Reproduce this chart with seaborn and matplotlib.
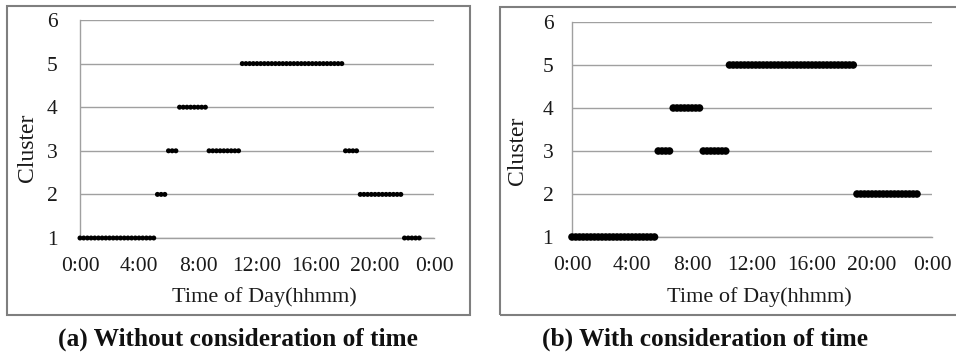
import matplotlib
matplotlib.use("Agg")
import matplotlib.pyplot as plt
from matplotlib.patches import Rectangle
import numpy as np
import pandas as pd
import seaborn as sns

# ---- data (one sample every 15 minutes, 0:00 .. 23:00) ----
slot_hours = [i * 0.25 for i in range(93)]

# (a) Without consideration of time
clusters_a = ([1] * 21 +      # 0:00 - 5:00
              [2] * 3 +       # 5:15 - 5:45
              [3] * 3 +       # 6:00 - 6:30
              [4] * 8 +       # 6:45 - 8:30
              [3] * 9 +       # 8:45 - 10:45
              [5] * 28 +      # 11:00 - 17:45
              [3] * 4 +       # 18:00 - 18:45
              [2] * 12 +      # 19:00 - 21:45
              [1] * 5)        # 22:00 - 23:00

# (b) With consideration of time
clusters_b = ([1] * 23 +      # 0:00 - 5:30
              [3] * 4 +       # 5:45 - 6:30
              [4] * 8 +       # 6:45 - 8:30
              [3] * 7 +       # 8:45 - 10:15
              [5] * 34 +      # 10:30 - 18:45
              [2] * 17)       # 19:00 - 23:00

x_ticks = [0, 4, 8, 12, 16, 20, 24]
x_tick_labels = ["0:00", "4:00", "8:00", "12:00", "16:00", "20:00", "0:00"]
y_ticks = [1, 2, 3, 4, 5, 6]
captions = ["(a) Without consideration of time", "(b) With consideration of time"]

sns.set_theme(style="white")
plt.rcParams["font.family"] = ["Liberation Serif", "DejaVu Serif"]

W, H = 956, 362
fig = plt.figure(figsize=(W / 100, H / 100), dpi=100)
fig.patch.set_facecolor("white")

def fx(px):
    return px / W

def fy(py):
    return 1 - py / H

# panel frames
for (x0, y0, x1, y1) in [(7, 6, 470, 315), (500, 7, 975, 315)]:
    fig.patches.append(Rectangle((fx(x0), fy(y1)), fx(x1) - fx(x0), fy(y0) - fy(y1),
                                 transform=fig.transFigure, fill=False,
                                 edgecolor="#7f7f7f", linewidth=1.5))

panels = [
    dict(rect=(80, 20, 434, 238), data=clusters_a, size=13, cap_x=238,
         ylab_x=27, ylab_y=148, ypad=16),
    dict(rect=(572, 22, 932, 237), data=clusters_b, size=30, cap_x=705,
         ylab_x=518, ylab_y=151, ypad=13.5),
]

for p, cap in zip(panels, captions):
    x0, y0, x1, y1 = p["rect"]
    ax = fig.add_axes([fx(x0), fy(y1), fx(x1) - fx(x0), fy(y0) - fy(y1)])
    df = pd.DataFrame({"hour": slot_hours, "cluster": p["data"]})
    sns.scatterplot(data=df, x="hour", y="cluster", ax=ax, color="black",
                    s=p["size"], marker="o", edgecolor="none", linewidth=0,
                    clip_on=False, zorder=3)
    ax.set_xlim(0, 24)
    ax.set_ylim(1, 6)
    ax.set_xticks(x_ticks)
    ax.set_xticklabels(x_tick_labels)
    ax.set_yticks(y_ticks)
    ax.set_yticklabels([str(v) for v in y_ticks])
    ax.tick_params(axis="both", length=0, labelsize=15.5, colors="#1a1a1a")
    ax.tick_params(axis="x", pad=14)
    ax.tick_params(axis="y", pad=p["ypad"])
    ax.grid(axis="y", color="#a0a0a0", linewidth=1)
    ax.grid(axis="x", visible=False)
    for s in ["top", "right"]:
        ax.spines[s].set_visible(False)
    for s in ["left", "bottom"]:
        ax.spines[s].set_color("#a0a0a0")
        ax.spines[s].set_linewidth(1)
    ax.set_xlabel("Time of Day(hhmm)", fontsize=16, color="#1a1a1a")
    ax.set_ylabel("Cluster", fontsize=17, color="#1a1a1a")
    ax.xaxis.set_label_coords(((x0 + x1) / 2 + 7 - x0) / (x1 - x0),
                              (y1 - 302) / (y1 - y0))
    ax.xaxis.label.set_va("baseline")
    ax.yaxis.set_label_coords((p["ylab_x"] - x0) / (x1 - x0), (y1 - p["ylab_y"]) / (y1 - y0))
    ax.yaxis.label.set_va("center")
    fig.text(fx(p["cap_x"]), fy(346), cap, ha="center", va="baseline",
             fontsize=18.3, fontweight="bold", color="#111111")

fig.savefig("out.png", dpi=100, facecolor="white")
